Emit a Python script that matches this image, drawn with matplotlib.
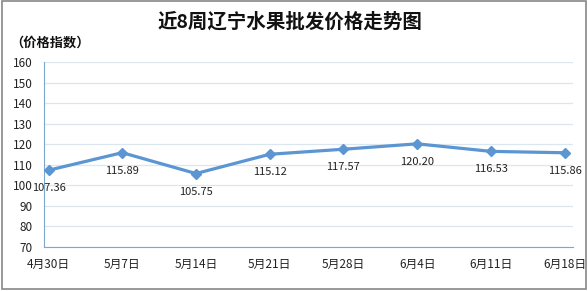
import matplotlib.pyplot as plt
from matplotlib.patches import Rectangle

plt.rcParams['font.family'] = ['Noto Sans CJK SC', 'DejaVu Sans']

weeks = ['4月30日', '5月7日', '5月14日', '5月21日', '5月28日', '6月4日', '6月11日', '6月18日']
price_index = [107.36, 115.89, 105.75, 115.12, 117.57, 120.20, 116.53, 115.86]
y_ticks = [70, 80, 90, 100, 110, 120, 130, 140, 150, 160]

blue = '#5b96d2'

fig = plt.figure(figsize=(5.88, 2.91), dpi=100)
ax = fig.add_axes([0.075, 0.151, 0.899, 0.636])

x = list(range(len(weeks)))
ax.plot(x, price_index, color=blue, lw=2.3, marker='D', ms=5, mec=blue, mfc=blue, zorder=3)

# value labels under each point
for xi, v in zip(x, price_index):
    ax.annotate('%.2f' % v, (xi, v), xytext=(0, -13), textcoords='offset points',
                ha='center', va='center', fontsize=8, color='#222222')

ax.set_xlim(-0.06, 7.11)
ax.set_ylim(70, 160)
ax.set_yticks(y_ticks)
ax.set_xticks(x)
ax.set_xticklabels(weeks)
ax.tick_params(axis='both', length=0, labelsize=8.5, colors='#222222')
ax.tick_params(axis='x', pad=8)
ax.tick_params(axis='y', pad=8)
ax.grid(axis='y', color='#dce6ee', lw=0.9)
ax.set_axisbelow(True)

for s in ['top', 'right']:
    ax.spines[s].set_visible(False)
ax.spines['left'].set_color('#7fa7c9')
ax.spines['bottom'].set_color('#7fa7c9')

fig.text(0.493, 0.925, '近8周辽宁水果批发价格走势图', ha='center', va='center',
         fontsize=14, fontweight='bold', color='#111111')
fig.text(0.018, 0.852, '（价格指数）', ha='left', va='center',
         fontsize=9.5, fontweight='bold', color='#111111')

fig.patches.append(Rectangle((0.004, 0.007), 0.992, 0.988, transform=fig.transFigure,
                             fill=False, ec='#888888', lw=1.2))

fig.savefig('out.png', dpi=100)
